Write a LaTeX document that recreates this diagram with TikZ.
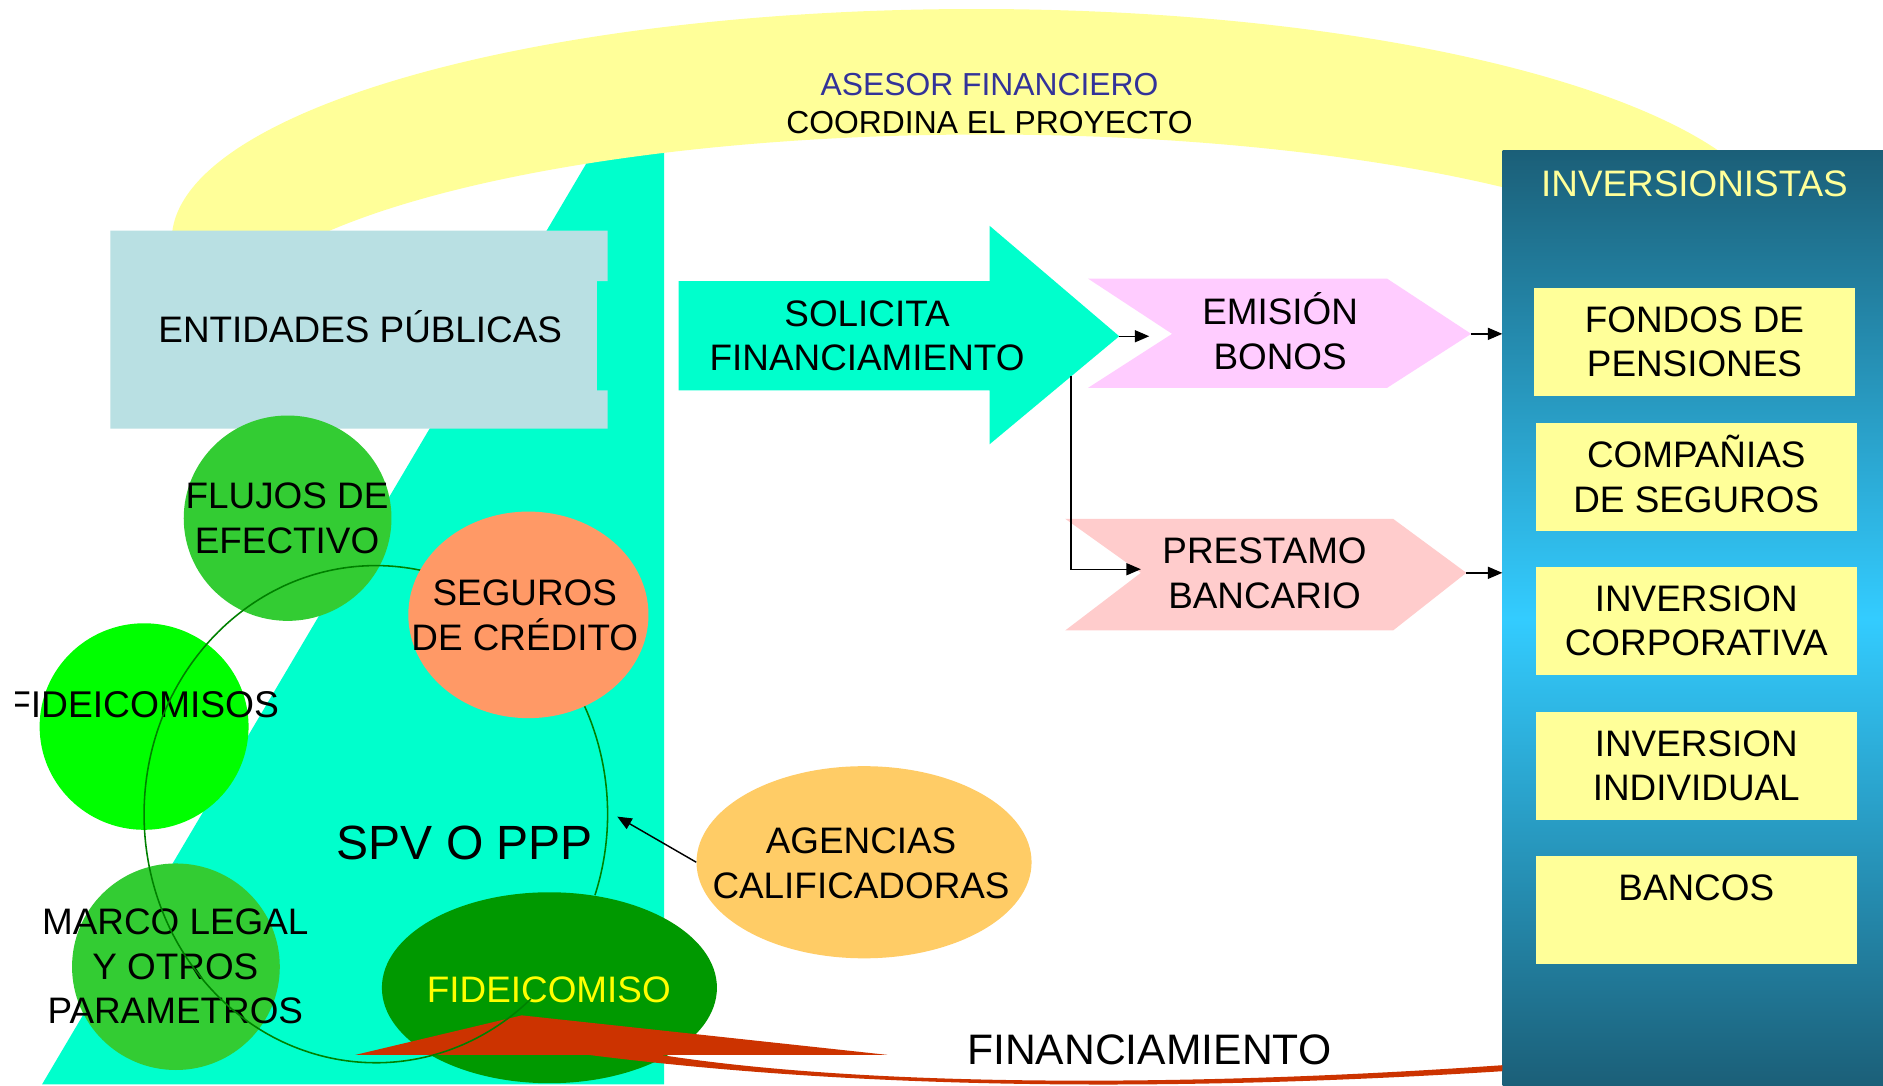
\documentclass[tikz,border=0pt]{standalone}
\usepackage{fontspec}
\setmainfont{Liberation Sans}
\usetikzlibrary{shapes.geometric,arrows.meta}
\definecolor{bandyellow}{HTML}{FFFF99}
\definecolor{spvteal}{HTML}{00FFCC}
\definecolor{entblue}{HTML}{B9E0E3}
\definecolor{midgreen}{HTML}{33CC33}
\definecolor{brightgreen}{HTML}{00FF00}
\definecolor{segorange}{HTML}{FF9966}
\definecolor{darkgreen}{HTML}{009900}
\definecolor{agenorange}{HTML}{FFCC66}
\definecolor{emipink}{HTML}{FFCCFF}
\definecolor{prespink}{HTML}{FFCCCC}
\definecolor{finred}{HTML}{CC3300}
\definecolor{ringgreen}{HTML}{008000}
\definecolor{asesorblue}{HTML}{333399}
\definecolor{invdark}{HTML}{1B5F78}
\definecolor{invmid}{HTML}{33CCFF}
\definecolor{fideyellow}{HTML}{FFFF00}
\begin{document}
\begin{tikzpicture}[x=1pt,y=-1pt,
  txt/.style={align=center, font=\fontsize{30.7}{37}\selectfont, inner sep=0pt},
  blob/.style={ellipse, draw=none, inner sep=0pt},
  ibox/.style={rectangle, fill=bandyellow, inner sep=0pt, align=center,
    font=\fontsize{30.7}{37}\selectfont, minimum width=267pt, minimum height=90pt},
  arr/.style={-{Triangle[length=12pt,width=10pt]}, line width=1.2pt, black},
  ringline/.style={draw=ringgreen, line width=1.3pt}]
\useasboundingbox (0,0) rectangle (1568,904);
\fill[white] (0,0) rectangle (1568,904);

% SPV background
\fill[spvteal] (35,903) -- (509.6,100) -- (553,100) -- (553,903) -- cycle;

% yellow band (asesor financiero)
\fill[bandyellow] (143,200) arc[start angle=180, end angle=360, x radius=670, y radius=192.5]
  -- (1460,280) arc[start angle=0, end angle=-180, x radius=640, y radius=168] -- cycle;
\node[txt, text=asesorblue, font=\fontsize{26.5}{32}\selectfont] (asesor) at (824,70) {ASESOR FINANCIERO};
\node[txt, font=\fontsize{26.5}{32}\selectfont] (coord) at (824,102) {COORDINA EL PROYECTO};

% entidades publicas
\fill[entblue] (92,192) -- (506,192) -- (506,234) -- (497,234) -- (497,325) -- (506,325)
  -- (506,357) -- (92,357) -- cycle;
\node[txt] (ent) at (300,275) {ENTIDADES P\smash{Ú}BLICAS};

% solicita financiamiento
\fill[spvteal] (565,234) -- (824,234) -- (824,188) -- (932,280) -- (824,370) -- (824,325)
  -- (565,325) -- cycle;
\coordinate (soltip) at (932,280);
\coordinate (soledge) at (892,313.3);
\node[txt] (sol) at (722,279.5) {SOLICITA\\FINANCIAMIENTO};

% emision bonos
\fill[emipink] (906,232) -- (1155,232) -- (1225,278) -- (1155,323) -- (906,323) -- (976,278) -- cycle;
\coordinate (emiin) at (957,280);
\coordinate (emitip) at (1225,278);
\node[txt] (emi) at (1066,278.5) {EMISI\smash{Ó}N\\BONOS};

% prestamo bancario
\fill[prespink] (887,432) -- (1160,432) -- (1221,477) -- (1160,525) -- (887,525) -- (950,477) -- cycle;
\coordinate (presin) at (950,474);
\coordinate (prestip) at (1221,477);
\node[txt] (pres) at (1053,477.5) {PRESTAMO\\BANCARIO};

% inversionistas
\node[anchor=north west, rectangle, inner sep=0pt, minimum width=317pt, minimum height=779pt,
  top color=invdark, bottom color=invdark, middle color=invmid] (inv) at (1251,125) {};
\node[txt, text=bandyellow] (invt) at (1411,153) {INVERSIONISTAS};
\node[ibox, minimum width=268pt] (fondos) at (1411,284.5) {FONDOS DE\\PENSIONES};
\node[ibox] (comp) at (1412.5,397.5) {COMPA\smash{Ñ}IAS\\DE SEGUROS};
\node[ibox] (corp) at (1412.5,517) {INVERSION\\CORPORATIVA};
\node[ibox] (indiv) at (1412.5,637.5) {INVERSION\\INDIVIDUAL};
\node[ibox] (bancos) at (1412.5,757.5) {BANCOS\\\mbox{}};

% connectors right part
\draw[arr] (soltip) -- (emiin);
\draw[arr] (soledge) |- (presin);
\draw[arr] (emitip) -- (emitip -| inv.west);
\draw[arr] (prestip) -- (prestip -| inv.west);

% left circles
\node[blob, fill=midgreen, minimum width=173pt, minimum height=171pt] (flujos) at (239.5,431.5) {};
\node[txt] (flujost) at (239,431.5) {FLUJOS DE\\EFECTIVO};
\node[blob, fill=brightgreen, minimum width=174pt, minimum height=172pt] (fideis) at (120,605) {};
\begin{scope}
  \clip (12.8,540) rectangle (300,640);
  \node[txt, font=\fontsize{31}{37}\selectfont] (fideist) at (119.5,587) {FIDEICOMISOS};
\end{scope}
\node[blob, fill=midgreen, minimum width=173pt, minimum height=172pt] (marco) at (146.5,805) {};
\node[txt] (marcot) at (146,805) {MARCO LEGAL\\Y OTROS\\PARAMETROS};

% fideicomiso and agencias
\node[blob, fill=darkgreen, minimum width=279pt, minimum height=159pt] (fide) at (457.5,822.5) {};
\node[txt, text=fideyellow] (fidet) at (457,824) {FIDEICOMISO};
\node[blob, fill=agenorange, minimum width=279pt, minimum height=160pt] (agen) at (719.5,718) {};
\node[txt] (agent) at (717,719) {AGENCIAS\\CALIFICADORAS};

% financiamiento arrow
\fill[finred] (296,878.4) -- (434.5,845.5) -- (739,878.4) -- (550,878.4)
  .. controls (700,902) and (950,908) .. (1251,887) -- (1251,892)
  .. controls (950,911) and (700,905) .. (490,878.4) -- cycle;
\node[txt, font=\fontsize{35.5}{42}\selectfont] (fin) at (957,874) {FINANCIAMIENTO};

% ring around SPV
\draw[ringline] (442.1,831.8) arc[start angle=48, end angle=379, x radius=193, y radius=207];
\coordinate (ringpt) at (514,680);

% seguros de credito
\node[blob, fill=segorange, minimum width=200pt, minimum height=172pt] (seg) at (440,512) {};
\node[txt] (segt) at (437,512.5) {SEGUROS\\DE CRÉDITO};

\node[txt, font=\fontsize{40}{48}\selectfont] (spv) at (387,702) {SPV O PPP};
\draw[arr] (agen.west) -- (ringpt);
\end{tikzpicture}
\end{document}
